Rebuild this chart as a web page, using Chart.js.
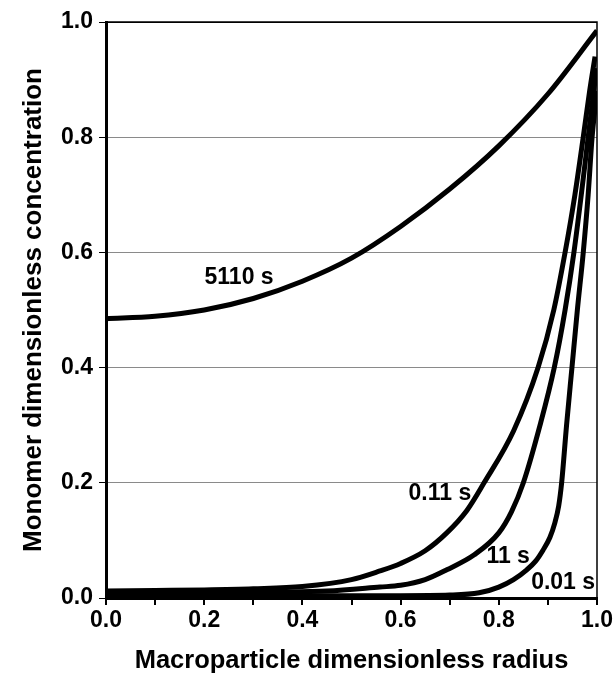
<!DOCTYPE html>
<html>
<head>
<meta charset="utf-8">
<script src="https://cdn.jsdelivr.net/npm/chart.js@4"></script>
<style>
  html, body { margin: 0; padding: 0; background: #fff; }
  #wrap { width: 615px; height: 678px; }
</style>
</head>
<body>
<div id="wrap"><canvas id="chart" width="615" height="678"></canvas></div>
<script>
// curve values (radius -> concentration)
const r5110 = [0, 0.1, 0.2, 0.3, 0.4, 0.5, 0.6, 0.7, 0.8, 0.9, 1.0];
const c5110 = [0.485, 0.489, 0.5, 0.52, 0.55, 0.59, 0.645, 0.71, 0.785, 0.875, 0.985];

const r011 = [0, 0.1, 0.2, 0.3, 0.4, 0.5, 0.558, 0.6, 0.65, 0.694, 0.735, 0.77, 0.83, 0.88, 0.912, 0.935, 0.955, 0.972, 0.985, 0.996];
const c011 = [0.012, 0.013, 0.014, 0.016, 0.02, 0.032, 0.047, 0.06, 0.082, 0.113, 0.152, 0.2, 0.29, 0.4, 0.5, 0.6, 0.7, 0.8, 0.88, 0.94];

const r11 = [0, 0.2, 0.35, 0.45, 0.558, 0.6, 0.65, 0.694, 0.75, 0.8, 0.826, 0.85, 0.884, 0.913, 0.935, 0.953, 0.968, 0.982, 0.992, 0.999];
const c11 = [0.008, 0.009, 0.01, 0.012, 0.019, 0.022, 0.032, 0.049, 0.075, 0.113, 0.15, 0.2, 0.3, 0.4, 0.5, 0.6, 0.7, 0.8, 0.87, 0.92];

const r001 = [0, 0.4, 0.6, 0.7, 0.76, 0.8, 0.83, 0.857, 0.875, 0.89, 0.904, 0.914, 0.922, 0.928, 0.938, 0.949, 0.96, 0.972, 0.982, 0.99, 1.0];
const c001 = [0.004, 0.004, 0.004, 0.005, 0.009, 0.019, 0.032, 0.049, 0.064, 0.083, 0.105, 0.13, 0.16, 0.2, 0.3, 0.4, 0.5, 0.6, 0.7, 0.8, 0.88];

const curveNames = ['5110 s', '0.11 s', '11 s', '0.01 s'];
// where each curve name sits, in data units (radius, concentration)
const labelR = [0.271, 0.68, 0.819, 0.931];
const labelC = [0.557, 0.182, 0.071, 0.026];

const FONT = "'Liberation Sans', Arial, sans-serif";

const toPoints = (xs, ys) => xs.map((x, i) => ({ x, y: ys[i] }));

const curveLabels = {
    id: 'curveLabels',
    afterDatasetsDraw(chart) {
        const { ctx, scales: { x, y } } = chart;
        ctx.save();
        ctx.font = 'bold 23px ' + FONT;
        ctx.fillStyle = '#000';
        ctx.textAlign = 'center';
        ctx.textBaseline = 'middle';
        curveNames.forEach((name, i) => {
            ctx.fillText(name, x.getPixelForValue(labelR[i]), y.getPixelForValue(labelC[i]));
        });
        ctx.restore();
    }
};

// thin black frame on top and right of plot area
const frame = {
    id: 'frame',
    afterDraw(chart) {
        const { ctx, chartArea: a } = chart;
        ctx.save();
        ctx.strokeStyle = '#000';
        ctx.lineWidth = 1.5;
        ctx.beginPath();
        ctx.moveTo(a.left, a.top);
        ctx.lineTo(a.right, a.top);
        ctx.lineTo(a.right, a.bottom);
        ctx.stroke();
        ctx.restore();
    }
};

const lineStyle = {
    showLine: true,
    borderColor: '#000',
    backgroundColor: '#000',
    borderWidth: 5,
    pointRadius: 0,
    cubicInterpolationMode: 'monotone',
    fill: false
};

new Chart(document.getElementById('chart'), {
    type: 'scatter',
    data: {
        datasets: [
            { label: curveNames[0], data: toPoints(r5110, c5110), ...lineStyle },
            { label: curveNames[1], data: toPoints(r011, c011), ...lineStyle },
            { label: curveNames[2], data: toPoints(r11, c11), ...lineStyle },
            { label: curveNames[3], data: toPoints(r001, c001), ...lineStyle }
        ]
    },
    options: {
        responsive: false,
        animation: false,
        layout: { padding: { top: 22, right: 18, left: 0, bottom: 0 } },
        plugins: {
            legend: { display: false },
            tooltip: { enabled: false }
        },
        scales: {
            x: {
                type: 'linear',
                min: 0,
                max: 1,
                afterFit: (s) => { s.height = 80; },
                border: { color: '#000', width: 3 },
                grid: { drawOnChartArea: false, color: '#000', tickLength: 7, lineWidth: 2 },
                ticks: {
                    stepSize: 0.1,
                    autoSkip: false,
                    maxRotation: 0,
                    color: '#000',
                    padding: 2,
                    font: { family: FONT, size: 23, weight: 'bold' },
                    callback: (v) => (Math.round(v * 10) % 2 === 0 ? v.toFixed(1) : '')
                },
                title: {
                    display: true,
                    text: 'Macroparticle dimensionless radius',
                    color: '#000',
                    font: { family: FONT, size: 25.5, weight: 'bold' },
                    padding: { top: 4, bottom: 2 }
                }
            },
            y: {
                min: 0,
                max: 1,
                afterFit: (s) => { s.width = 106; },
                border: { color: '#000', width: 3 },
                grid: {
                    color: (c) => (c.tick && c.tick.value === 1 ? '#000' : '#8a8a8a'),
                    tickColor: '#000',
                    tickLength: 7,
                    lineWidth: 1
                },
                ticks: {
                    stepSize: 0.2,
                    color: '#000',
                    padding: 6,
                    font: { family: FONT, size: 23, weight: 'bold' },
                    callback: (v) => v.toFixed(1)
                },
                title: {
                    display: true,
                    text: 'Monomer dimensionless concentration',
                    color: '#000',
                    font: { family: FONT, size: 26, weight: 'bold' },
                    padding: { top: 18, bottom: 4 }
                }
            }
        }
    },
    plugins: [curveLabels, frame]
});
</script>
</body>
</html>
